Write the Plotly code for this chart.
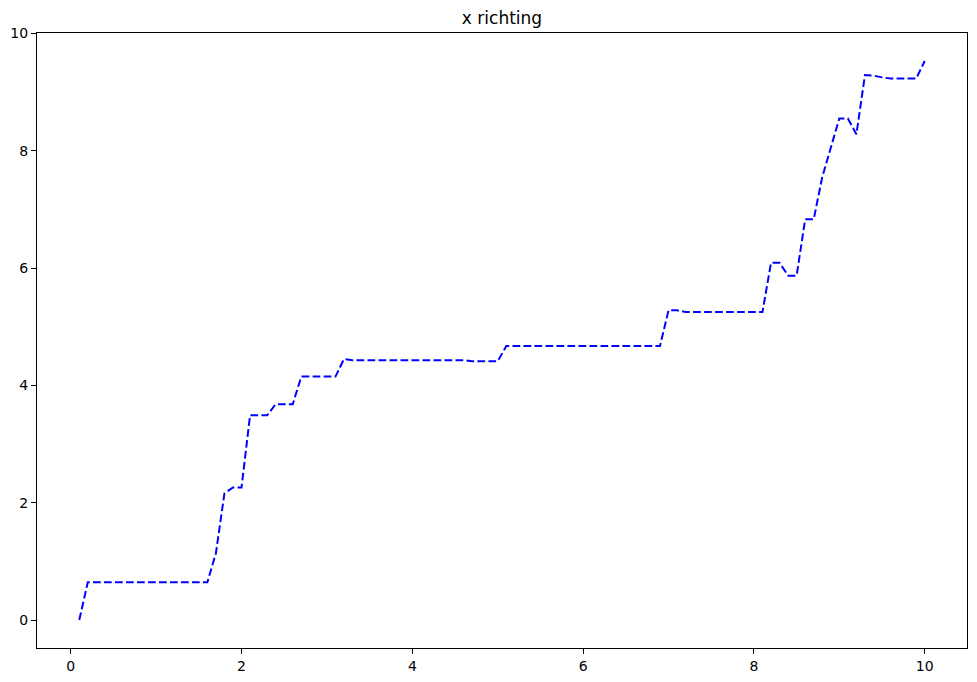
"""Line plot of displacement in x direction."""

import plotly.graph_objects as go

# time steps (x axis)
t_values = [0.1, 0.2, 0.3, 0.4, 0.5, 0.6, 0.7, 0.8, 0.9, 1.0,
            1.1, 1.2, 1.3, 1.4, 1.5, 1.6, 1.7, 1.8, 1.9, 2.0,
            2.1, 2.2, 2.3, 2.4, 2.5, 2.6, 2.7, 2.8, 2.9, 3.0,
            3.1, 3.2, 3.3, 3.4, 3.5, 3.6, 3.7, 3.8, 3.9, 4.0,
            4.1, 4.2, 4.3, 4.4, 4.5, 4.6, 4.7, 4.8, 4.9, 5.0,
            5.1, 5.2, 5.3, 5.4, 5.5, 5.6, 5.7, 5.8, 5.9, 6.0,
            6.1, 6.2, 6.3, 6.4, 6.5, 6.6, 6.7, 6.8, 6.9, 7.0,
            7.1, 7.2, 7.3, 7.4, 7.5, 7.6, 7.7, 7.8, 7.9, 8.0,
            8.1, 8.2, 8.3, 8.4, 8.5, 8.6, 8.7, 8.8, 8.9, 9.0,
            9.1, 9.2, 9.3, 9.4, 9.5, 9.6, 9.7, 9.8, 9.9, 10.0]

# position in x direction
x_values = [0.00, 0.645, 0.645, 0.645, 0.645, 0.645, 0.645, 0.645, 0.645, 0.645,
            0.645, 0.645, 0.645, 0.645, 0.645, 0.645, 1.14, 2.16, 2.26, 2.26,
            3.49, 3.49, 3.49, 3.68, 3.68, 3.68, 4.15, 4.15, 4.15, 4.15,
            4.15, 4.45, 4.43, 4.43, 4.43, 4.43, 4.43, 4.43, 4.43, 4.43,
            4.43, 4.43, 4.43, 4.43, 4.43, 4.43, 4.41, 4.41, 4.41, 4.41,
            4.67, 4.67, 4.67, 4.67, 4.67, 4.67, 4.67, 4.67, 4.67, 4.67,
            4.67, 4.67, 4.67, 4.67, 4.67, 4.67, 4.67, 4.67, 4.67, 5.28,
            5.28, 5.25, 5.25, 5.25, 5.25, 5.25, 5.25, 5.25, 5.25, 5.25,
            5.25, 6.09, 6.09, 5.87, 5.87, 6.83, 6.83, 7.55, 8.05, 8.55,
            8.55, 8.28, 9.29, 9.28, 9.25, 9.23, 9.23, 9.23, 9.23, 9.53]

x_ticks = [0, 2, 4, 6, 8, 10]
y_ticks = [0, 2, 4, 6, 8, 10]

# matplotlib-like 5% padding on both axes
t_pad = (max(t_values) - min(t_values)) * 0.05
v_pad = (max(x_values) - min(x_values)) * 0.05

fig = go.Figure()

fig.add_trace(go.Scatter(
    x=t_values,
    y=x_values,
    mode='lines',
    line=dict(color='#0000ff', width=2, dash='7.7px,3.3px'),
    showlegend=False,
))

axis_style = dict(
    showgrid=False,
    zeroline=False,
    showline=True,
    linecolor='black',
    linewidth=1,
    mirror=True,
    ticks='outside',
    ticklen=5,
    tickwidth=1,
    tickcolor='black',
    automargin=False,
    tickfont=dict(family='DejaVu Sans', size=14, color='black'),
)

# the page body adds an 8px offset, so the figure is sized to fit the window
fig.update_layout(
    title=dict(text='x richting', x=0.5, xanchor='center', xref='paper',
               y=0.985, yanchor='middle',
               font=dict(family='DejaVu Sans', size=17, color='black')),
    xaxis=dict(range=[min(t_values) - t_pad, max(t_values) + t_pad],
               tickvals=x_ticks, **axis_style),
    yaxis=dict(range=[min(x_values) - v_pad, max(x_values) + v_pad],
               tickvals=y_ticks, **axis_style),
    plot_bgcolor='white',
    paper_bgcolor='white',
    margin=dict(l=29, r=10, t=25, b=34),
    width=969,
    height=674,
)

fig.write_html("out.html")
